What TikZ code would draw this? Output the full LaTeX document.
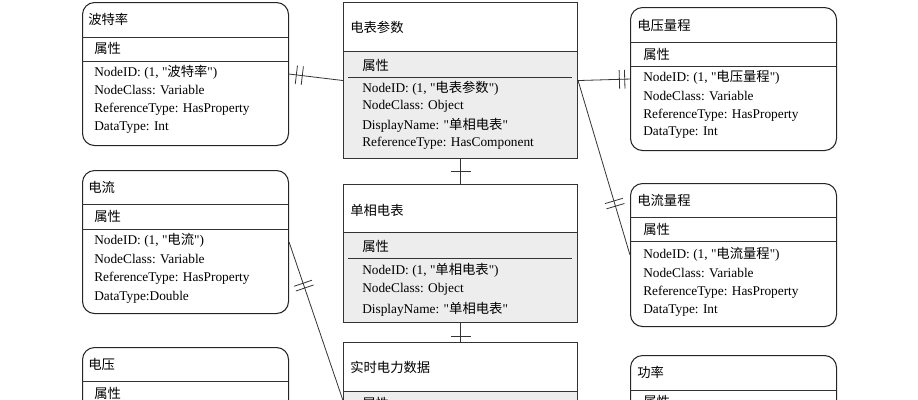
\documentclass[tikz,border=0pt]{standalone}
\usepackage{fontspec}
\setmainfont{Liberation Serif}[Ligatures=TeXOff]
\newfontfamily\cjk{Noto Sans CJK SC}
\usetikzlibrary{calc}
\newcommand{\zh}[1]{{\cjk #1}}
\newcommand{\q}{\symbol{34}}
\begin{document}
\begin{tikzpicture}[x=0.75pt,y=-0.75pt,
  every node/.style={font=\fontsize{10}{11}\selectfont},
  rbox/.style={draw=black!85,line width=0.8pt,rounded corners=9pt,anchor=north west,minimum width=154.5pt,inner sep=0pt},
  cbox/.style={draw=black!80,line width=0.8pt,anchor=north west,minimum width=175.5pt,inner sep=0pt},
  txt/.style={anchor=west,inner sep=0pt},
  ln/.style={draw=black!80,line width=0.6pt}]
\useasboundingbox (0,0) rectangle (918,400);
\begin{scope}
\clip (0,0) rectangle (918,400);
% left boxes
\node[rbox,minimum height=107.25pt] (b1) at (82,2) {};
\draw[ln] (82,37) -- (288,37); \draw[ln] (82,61) -- (288,61);
\node[txt] at (88,19) {\zh{波特率}};
\node[txt] at (94,48) {\zh{属性}};
\node[txt] at (94,72) {NodeID: (1, \q\zh{波特率}\q)};
\node[txt] at (94,90) {NodeClass: Variable};
\node[txt] at (94,109) {ReferenceType: HasProperty};
\node[txt] at (94,128) {DataType: Int};
\node[rbox,minimum height=107.25pt] (b2) at (82,170) {};
\draw[ln] (82,204) -- (288,204); \draw[ln] (82,229) -- (288,229);
\node[txt] at (88,187) {\zh{电流}};
\node[txt] at (94,216) {\zh{属性}};
\node[txt] at (94,240) {NodeID: (1, \q\zh{电流}\q)};
\node[txt] at (94,259) {NodeClass: Variable};
\node[txt] at (94,278) {ReferenceType: HasProperty};
\node[txt] at (94,297) {DataType:Double};
\node[rbox,minimum height=107.25pt] (b3) at (82,347) {};
\draw[ln] (82,381) -- (288,381); \draw[ln] (82,406) -- (288,406);
\node[txt] at (88,364) {\zh{电压}};
\node[txt] at (94,393) {\zh{属性}};
% right boxes
\node[rbox,minimum height=107.25pt] (r1) at (630,7) {};
\draw[ln] (630,42) -- (836,42); \draw[ln] (630,66) -- (836,66);
\node[txt] at (637,25) {\zh{电压量程}};
\node[txt] at (643,54) {\zh{属性}};
\node[txt] at (643,77) {NodeID: (1, \q\zh{电压量程}\q)};
\node[txt] at (643,96) {NodeClass: Variable};
\node[txt] at (643,115) {ReferenceType: HasProperty};
\node[txt] at (643,133) {DataType: Int};
\node[rbox,minimum height=107.25pt] (r2) at (630,183) {};
\draw[ln] (630,217) -- (836,217); \draw[ln] (630,241) -- (836,241);
\node[txt] at (637,200) {\zh{电流量程}};
\node[txt] at (643,229) {\zh{属性}};
\node[txt] at (643,254) {NodeID: (1, \q\zh{电流量程}\q)};
\node[txt] at (643,273) {NodeClass: Variable};
\node[txt] at (643,292) {ReferenceType: HasProperty};
\node[txt] at (643,311) {DataType: Int};
\node[rbox,minimum height=107.25pt] (r3) at (630,355) {};
\draw[ln] (630,390) -- (836,390); \draw[ln] (630,414) -- (836,414);
\node[txt] at (637,372) {\zh{功率}};
\node[txt] at (643,401) {\zh{属性}};
% center boxes
\fill[black!7] (343,51) rectangle (577,158);
\fill[black!7] (343,232) rectangle (577,322);
\fill[black!7] (343,391) rectangle (577,460);
\node[cbox,minimum height=117pt] (c1) at (343,2) {};
\node[cbox,minimum height=103.5pt] (c2) at (343,184) {};
\node[cbox,minimum height=87pt] (c3) at (343,342) {};
\draw[ln] (343,51) -- (577,51); \draw[ln] (348,77) -- (572,77);
\draw[ln] (343,232) -- (577,232); \draw[ln] (348,258) -- (572,258);
\draw[ln] (343,391) -- (577,391);
\node[txt] at (350,27) {\zh{电表参数}};
\node[txt] at (362,65) {\zh{属性}};
\node[txt] at (362,88) {NodeID: (1, \q\zh{电表参数}\q)};
\node[txt] at (362,106) {NodeClass: Object};
\node[txt] at (362,125) {DisplayName: \q\zh{单相电表}\q};
\node[txt] at (362,143) {ReferenceType: HasComponent};
\node[txt] at (350,210) {\zh{单相电表}};
\node[txt] at (362,246) {\zh{属性}};
\node[txt] at (362,270) {NodeID: (1, \q\zh{单相电表}\q)};
\node[txt] at (362,289) {NodeClass: Object};
\node[txt] at (362,309) {DisplayName: \q\zh{单相电表}\q};
\node[txt] at (350,367) {\zh{实时电力数据}};
\node[txt] at (362,403) {\zh{属性}};
% connectors
\draw[ln] (b1.east) -- (c1.west);
\foreach \d in {5.5pt,10pt}{\coordinate (t) at ($(b1.east)!\d!(c1.west)$);
  \draw[ln] ($(t)!7pt!90:(c1.west)$) -- ($(t)!7pt!-90:(c1.west)$);}
\draw[ln] (c1.east) -- (r1.west);
\foreach \d in {31pt,35pt}{\coordinate (t) at ($(c1.east)!\d!(r1.west)$);
  \draw[ln] ($(t)!7pt!90:(r1.west)$) -- ($(t)!7pt!-90:(r1.west)$);}
\draw[ln] (c1.east) -- (r2.west);
\foreach \d in {0.69,0.72}{\coordinate (t) at ($(c1.east)!\d!(r2.west)$);
  \draw[ln] ($(t)!7pt!90:(r2.west)$) -- ($(t)!7pt!-90:(r2.west)$);}
\draw[ln] (c1.south) -- (c2.north);
\coordinate (t) at ($(c1.south)!9pt!(c2.north)$);
\draw[ln] ($(t)!7.5pt!90:(c2.north)$) -- ($(t)!7.5pt!-90:(c2.north)$);
\draw[ln] (c2.south) -- (c3.north);
\coordinate (t) at ($(c2.south)!10pt!(c3.north)$);
\draw[ln] ($(t)!7.5pt!90:(c3.north)$) -- ($(t)!7.5pt!-90:(c3.north)$);
\draw[ln] (b2.east) -- (c3.west);
\foreach \d in {0.26,0.29}{\coordinate (t) at ($(b2.east)!\d!(c3.west)$);
  \draw[ln] ($(t)!7pt!90:(c3.west)$) -- ($(t)!7pt!-90:(c3.west)$);}
\end{scope}
\end{tikzpicture}
\end{document}
